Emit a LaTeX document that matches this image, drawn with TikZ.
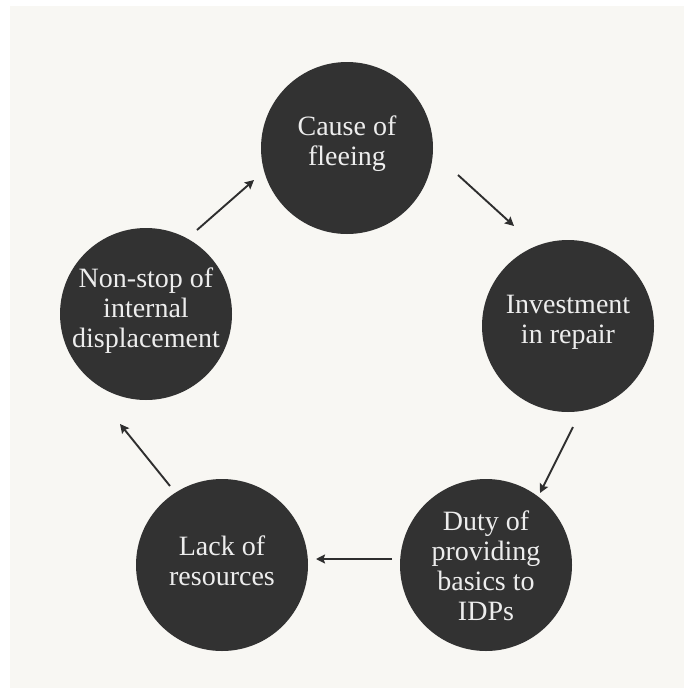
\documentclass[tikz,border=0pt]{standalone}
\usepackage{fontspec}
\setmainfont{Liberation Serif}
\usetikzlibrary{arrows.meta}
\definecolor{bgpaper}{HTML}{F8F7F3}
\definecolor{discfill}{HTML}{323232}
\definecolor{disctext}{HTML}{EDEDED}
\definecolor{arrowcol}{HTML}{2E2E2E}
\tikzset{
  disc/.style={circle, fill=discfill, draw=none, minimum size=172pt, inner sep=0pt},
  disclabel/.style={align=center, text=disctext, font=\fontsize{28}{30}\selectfont, inner sep=0pt},
  flow/.style={draw=arrowcol, line width=1.9pt, -{Stealth[length=9pt,width=9pt,inset=1.5pt]}}
}
\begin{document}
\begin{tikzpicture}[x=1pt,y=-1pt]
\useasboundingbox (0,0) rectangle (684,688);
\fill[white] (0,0) rectangle (684,688);
\fill[bgpaper] (10,6) rectangle (684,688);

\node[disc] (cause) at (347,148) {};
\node[disc] (invest) at (568,326) {};
\node[disc] (duty) at (486,565) {};
\node[disc] (lack) at (222,565) {};
\node[disc] (nonstop) at (146,314) {};

\node[disclabel, yshift=4pt] (causet) at (cause) {Cause of\\fleeing};
\node[disclabel, yshift=4pt] (investt) at (invest) {Investment\\in repair};
\node[disclabel, yshift=-1pt] (dutyt) at (duty) {Duty of\\providing\\basics to\\IDPs};
\node[disclabel, yshift=4pt] (lackt) at (lack) {Lack of\\resources};
\node[disclabel, yshift=3pt] (nonstopt) at (nonstop) {Non-stop of\\internal\\displacement};

\coordinate (a1s) at (458,175); \coordinate (a1e) at (514,226);
\coordinate (a2s) at (573,427); \coordinate (a2e) at (540,493);
\coordinate (a3s) at (392,559); \coordinate (a3e) at (316,559);
\coordinate (a4s) at (170,486); \coordinate (a4e) at (120,424);
\coordinate (a5s) at (197,230); \coordinate (a5e) at (254,180);

\draw[flow] (a1s) -- (a1e);
\draw[flow] (a2s) -- (a2e);
\draw[flow] (a3s) -- (a3e);
\draw[flow] (a4s) -- (a4e);
\draw[flow] (a5s) -- (a5e);
\end{tikzpicture}
\end{document}
